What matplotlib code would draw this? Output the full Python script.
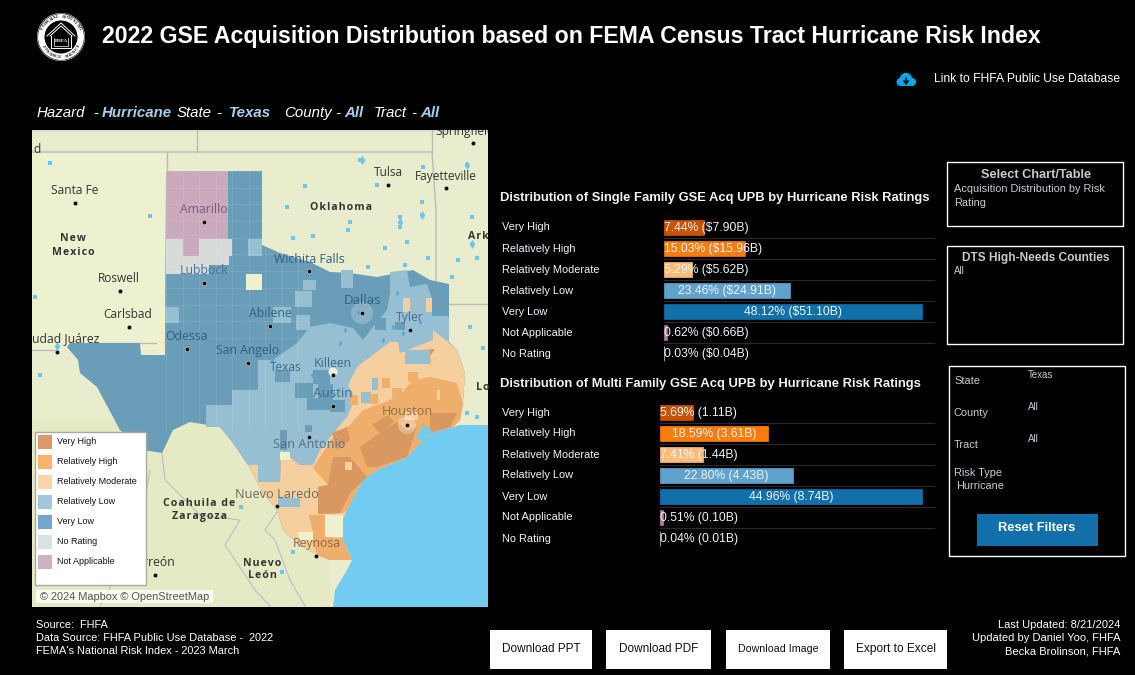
import numpy as np
import matplotlib
matplotlib.use("Agg")
import matplotlib.pyplot as plt
from matplotlib.patches import Circle, Polygon, Rectangle

plt.rcParams["font.family"] = ["Liberation Sans", "DejaVu Sans"]

W, H = 1135, 675

# chart values
ratings = ["Very High", "Relatively High", "Relatively Moderate", "Relatively Low",
           "Very Low", "Not Applicable", "No Rating"]
sf_share = [7.44, 15.03, 5.29, 23.46, 48.12, 0.62, 0.03]
sf_upb = ["$7.90B", "$15.96B", "$5.62B", "$24.91B", "$51.10B", "$0.66B", "$0.04B"]
mf_share = [5.69, 18.59, 7.41, 22.80, 44.96, 0.51, 0.04]
mf_upb = ["1.11B", "3.61B", "1.44B", "4.43B", "8.74B", "0.10B", "0.01B"]
rating_colors = ["#c85200", "#fc7d0b", "#ffbc79", "#5fa2ce", "#1170aa", "#b07aa1", "#d7dce0"]

legend_names = ["Very High", "Relatively High", "Relatively Moderate", "Relatively Low",
                "Very Low", "No Rating", "Not Applicable"]
legend_colors = ["#dd9a68", "#fbb06c", "#fdd3aa", "#a2c6e0", "#72a6cc", "#dde1e5", "#d0afc8"]

# map shapes, in screen pixels of the dashboard
texas = [(166, 171), (262, 171), (262, 245), (280, 253), (310, 262), (330, 272), (350, 273),
         (377, 277), (397, 273), (413, 270), (430, 280), (449, 284), (449, 342), (457, 350),
         (465, 373), (463, 403), (460, 420), (453, 427), (430, 433), (407, 457), (377, 470),
         (363, 480), (347, 510), (340, 527), (343, 540), (352, 560), (330, 560), (317, 555),
         (297, 543), (283, 530), (277, 510), (263, 493), (248, 465), (233, 443), (220, 427),
         (190, 422), (173, 430), (162, 453), (143, 450), (120, 430), (97, 387), (80, 373),
         (78, 360), (67, 347), (70, 343), (140, 343), (141, 355), (157, 355), (157, 343),
         (165, 343)]
gulf = [(488, 425), (460, 425), (453, 427), (430, 433), (407, 457), (377, 470), (363, 480),
        (347, 510), (340, 527), (343, 540), (352, 560), (347, 570), (335, 590), (333, 607),
        (488, 607)]
bay = [(416, 440), (423, 425), (432, 430), (424, 440)]
not_applicable = [(166, 171), (228, 171), (228, 239), (199, 239), (199, 256), (183, 256),
                  (183, 239), (166, 239)]
no_rating = [(166, 239), (183, 239), (183, 256), (199, 256), (199, 239), (232, 239), (232, 256),
             (229, 256), (229, 265), (209, 265), (209, 274), (166, 274)]
rel_low = [(297, 343), (310, 327), (330, 323), (353, 328), (363, 340), (373, 327), (387, 310),
           (390, 293), (390, 272), (407, 270), (410, 287), (427, 284), (437, 313), (449, 317),
           (449, 345), (400, 360), (360, 400), (313, 465), (300, 465), (281, 450), (280, 482),
           (258, 482), (258, 465), (248, 465), (233, 443), (220, 427), (206, 427), (206, 405),
           (232, 405), (232, 390), (258, 390), (258, 360), (273, 360)]
moderate = [(332, 435), (347, 417), (355, 398), (348, 385), (357, 367), (370, 357), (390, 342),
            (398, 342), (400, 353), (433, 340), (433, 330), (448, 342), (457, 350), (465, 373),
            (463, 403), (460, 420), (453, 427), (430, 433), (407, 457), (377, 470), (363, 480),
            (347, 510), (340, 527), (343, 540), (352, 560), (330, 560), (317, 555), (297, 543),
            (283, 530), (277, 510), (263, 493), (248, 465), (258, 465), (258, 482), (280, 482),
            (281, 450), (300, 465), (313, 465), (320, 450)]
high = [(363, 410), (383, 403), (400, 395), (413, 380), (430, 377), (457, 383), (463, 403),
        (460, 420), (453, 427), (430, 433), (407, 457), (377, 470), (363, 480), (347, 510),
        (343, 513), (318, 514), (318, 487), (328, 485), (313, 468), (320, 457), (333, 437),
        (350, 425)]
high_south = [(309, 515), (325, 515), (325, 537), (343, 538), (347, 550), (352, 560), (330, 560),
              (317, 555), (312, 540), (313, 533)]
very_high = [
    [(360, 447), (380, 433), (397, 422), (407, 430), (417, 427), (407, 457), (377, 467), (367, 467)],
    [(333, 457), (350, 457), (367, 477), (350, 493), (340, 513), (318, 514), (318, 487), (328, 485)],
    [(332, 433), (347, 427), (350, 440), (337, 450)],
    [(430, 413), (457, 413), (450, 427), (430, 433)],
    [(421, 350), (435, 349), (430, 356), (431, 363), (424, 362)],
    [(372, 425), (388, 415), (394, 422), (380, 433)],
]
# loose counties, as (x0, y0, x1, y1)
very_low_blocks = [(295, 383, 313, 398), (307, 398, 330, 410), (275, 370, 290, 382),
                   (280, 430, 287, 450), (313, 370, 330, 384), (318, 384, 333, 400),
                   (305, 425, 312, 432), (330, 400, 345, 412), (395, 322, 405, 330),
                   (432, 296, 449, 316), (350, 300, 378, 316), (375, 318, 386, 330)]
rel_low_blocks = [(248, 239, 262, 256), (165, 307, 179, 323), (295, 291, 312, 307),
                  (273, 307, 291, 323), (258, 360, 273, 376), (341, 270, 353, 288),
                  (361, 392, 371, 403), (405, 350, 430, 364), (278, 498, 300, 507),
                  (372, 378, 378, 390), (296, 315, 310, 330), (303, 280, 316, 290)]
moderate_blocks = [(403, 298, 410, 312), (426, 298, 432, 312), (345, 462, 352, 470), (437, 390, 444, 400),
                   (405, 412, 418, 420)]
high_blocks = [(408, 372, 418, 382), (382, 378, 390, 388), (370, 394, 378, 404),
               (440, 385, 455, 405), (392, 388, 402, 398), (350, 395, 358, 405)]
blank_blocks = [(246, 274, 262, 290), (157, 343, 165, 355), (325, 515, 343, 537),
                (298, 532, 313, 540), (280, 452, 290, 460)]

lake_x = [360, 400, 400, 422, 377, 422, 467, 423, 472, 472, 350, 348, 305, 287, 293, 313, 385, 407,
          428, 458, 477, 368, 405, 452, 470, 483, 50, 150, 35, 241, 293, 282, 40, 467, 477]
lake_y = [160, 217, 227, 215, 185, 202, 165, 167, 244, 217, 222, 230, 186, 207, 238, 236, 248, 242,
          258, 260, 258, 267, 265, 277, 327, 348, 163, 216, 297, 507, 552, 572, 375, 413, 417]
big_lake_x = [400, 467, 472, 422, 362, 57]
big_lake_y = [222, 165, 244, 215, 160, 346]
texas_lake_x = [287, 313, 355, 380, 397, 443, 433, 383, 403, 272, 340, 393, 312, 372, 420, 345, 318, 358]
texas_lake_y = [277, 278, 290, 310, 293, 295, 313, 340, 333, 360, 343, 327, 375, 290, 322, 330, 402, 312]

state_lines = [
    [(32, 152), (432, 152), (436, 210), (436, 284)],
    [(167, 152), (167, 171)],
    [(197, 130), (197, 152)],
    [(432, 130), (432, 152)],
    [(449, 304), (488, 304)],
    [(32, 350), (57, 350)],
    [(166, 275), (166, 343), (100, 343)],
]
mexico_lines = [
    [(162, 453), (165, 480), (200, 515), (240, 520), (225, 545), (255, 590), (270, 606)],
    [(277, 512), (265, 530), (275, 540), (290, 580), (305, 606)],
    [(100, 606), (125, 560), (145, 500), (150, 470)],
]

map_labels = [
    ("Santa Fe", 75, 189, "#333333", 8.6), ("Tulsa", 388, 171, "#333333", 8.6),
    ("Fayetteville", 446, 175, "#333333", 8.6), ("Roswell", 119, 277, "#333333", 8.6),
    ("Carlsbad", 128, 313, "#333333", 8.6), ("Amarillo", 204, 208, "#7b5a80", 8.8),
    ("Lubbock", 204, 269, "#47739a", 8.8), ("Wichita Falls", 309, 258, "#2f5f85", 8.8),
    ("Dallas", 363, 299, "#2f5f85", 9.5), ("Abilene", 270, 312, "#2f5f85", 8.8),
    ("Tyler", 410, 316, "#4a6f8c", 8.8), ("Odessa", 187, 335, "#2f5f85", 8.8),
    ("San Angelo", 248, 349, "#2f5f85", 8.8), ("Killeen", 333, 362, "#3d6a8c", 8.8),
    ("Austin", 333, 392, "#3d6a8c", 9.6), ("Houston", 407, 410, "#8a6f58", 9.2),
    ("San Antonio", 309, 443, "#54708a", 9.2), ("Nuevo Laredo", 277, 493, "#6e6a62", 9.2),
    ("Reynosa", 317, 542, "#8a6a50", 8.8),
]
bold_labels = [("New", 73, 238), ("Mexico", 73, 252), ("Oklahoma", 341, 207),
               ("Coahuila de", 199, 503), ("Zaragoza", 199, 515), ("Nuevo", 262, 562),
               ("León", 262, 574)]
city_x = [75, 204, 388, 446, 120, 204, 309, 362, 129, 270, 410, 187, 57, 248, 333, 333, 407, 309,
          277, 316, 155, 473]
city_y = [203, 222, 185, 188, 291, 283, 271, 313, 327, 326, 330, 349, 352, 363, 375, 406, 425, 437,
          506, 556, 575, 143]


def px_axes(fig, left, top, width, height):
    return fig.add_axes([left / W, 1 - (top + height) / H, width / W, height / H])


def txt(ax, x, y, s, size, color="white", **kwargs):
    kwargs.setdefault("va", "center")
    return ax.text(x, y + 1, s, fontsize=size, color=color, **kwargs)


def box(ax, x0, y0, x1, y1, color, **kwargs):
    ax.add_patch(Rectangle((x0, y0), x1 - x0, y1 - y0, facecolor=color, edgecolor="none", **kwargs))


def draw_bars(fig, left, top, right_edge, xmax_px, shares, upbs):
    height = 21 * 7
    ax = px_axes(fig, left, top, right_edge - left, height)
    scale = max(shares) / xmax_px
    ax.set_xlim(0, (right_edge - left) * scale)
    ax.set_ylim(6.5, -0.5)
    ax.axis("off")
    rows = np.arange(len(shares))
    ax.barh(rows, shares, height=0.71, color=rating_colors, edgecolor=rating_colors, linewidth=0.5)
    for row in rows[:-1]:
        ax.axhline(row + 0.5, color="#2a2a2a", lw=0.8)
    for row, share, upb in zip(rows, shares, upbs):
        label = f"{share:.2f}% ({upb})"
        if len(label) * 6 < share / scale:
            ax.text(share / 2, row + 0.02, label, ha="center", va="center", fontsize=8.7, color="#eef3f5")
        else:
            ax.text(0, row + 0.02, label, ha="left", va="center", fontsize=8.7, color="#eef3f5")


def draw_map(fig):
    ax = px_axes(fig, 32, 130, 456, 477)
    ax.set_xlim(32, 488)
    ax.set_ylim(607, 130)
    ax.axis("off")
    box(ax, 32, 130, 488, 607, "#e9edcd", zorder=0)
    box(ax, 32, 130, 488, 132, "#dcdcdc", zorder=0.5)
    box(ax, 32, 153, 166, 350, "#eef1d0", zorder=0.2)
    box(ax, 32, 420, 330, 607, "#e5e9c4", zorder=0.2)
    ax.add_patch(Polygon(gulf, facecolor="#72ccf1", edgecolor="none", zorder=1))

    tx = Polygon(texas, facecolor="#699db8", edgecolor="none", zorder=2)
    ax.add_patch(tx)
    layers = [(not_applicable, "#c9a9bb"), (no_rating, "#d7dcd8"), (rel_low, "#97bfd2"),
              (moderate, "#f6cf9e"), (high, "#efae6c"), (high_south, "#efae6c")]
    for shape, color in layers:
        ax.add_patch(Polygon(shape, facecolor=color, edgecolor="none", zorder=3))
    for shape in very_high:
        ax.add_patch(Polygon(shape, facecolor="#d8985f", edgecolor="none", zorder=4))
    blocks = [(very_low_blocks, "#699db8"), (rel_low_blocks, "#97bfd2"), (moderate_blocks, "#f6cf9e"),
              (high_blocks, "#efae6c"), (blank_blocks, "#eef1cb")]
    for group, color in blocks:
        for x0, y0, x1, y1 in group:
            box(ax, x0, y0, x1, y1, color, zorder=4)
    ax.add_patch(Polygon(bay, facecolor="#72ccf1", edgecolor="none", zorder=4.5))

    # county lines and bright metro patches
    grid = ax.vlines(np.arange(166, 300, 16.5), 171, 430, color="white", lw=0.5, alpha=0.14, zorder=5)
    grid.set_clip_path(tx)
    grid = ax.hlines(np.arange(171, 345, 16.7), 166, 300, color="white", lw=0.5, alpha=0.14, zorder=5)
    grid.set_clip_path(tx)
    ax.add_patch(Circle((362, 313), 11, facecolor="white", alpha=0.22, edgecolor="none", zorder=5))
    ax.add_patch(Circle((407, 425), 9, facecolor="white", alpha=0.3, edgecolor="none", zorder=5))
    ax.add_patch(Circle((333, 372), 4.5, facecolor="#f5f6d8", alpha=0.9, edgecolor="none", zorder=5))

    ax.scatter(lake_x, lake_y, s=6, marker="s", color="#6cc6f0", linewidths=0, zorder=6)
    ax.scatter(big_lake_x, big_lake_y, s=22, marker="d", color="#6cc6f0", linewidths=0, zorder=6)
    ax.scatter(texas_lake_x, texas_lake_y, s=8, marker="d", color="#4da6d9", linewidths=0, zorder=6)

    for line in state_lines:
        xs, ys = zip(*line)
        ax.plot(xs, ys, color="#b9bcb6", lw=1.0, zorder=1.5)
    for line in mexico_lines:
        xs, ys = zip(*line)
        ax.plot(xs, ys, color="#bdbdcc", lw=0.8, zorder=1.5)

    ax.scatter(city_x, city_y, s=11, color="#111111", edgecolors="white", linewidths=0.3, zorder=7)
    for name, x, y, color, size in map_labels:
        txt(ax, x, y + 0.5, name, size, color, ha="center", family="Open Sans", zorder=8)
    for name, x, y in bold_labels:
        txt(ax, x, y, "\u200a".join(name), 7.6, "#333333", ha="center", family="Open Sans",
            fontweight="bold", zorder=8)
    txt(ax, 286, 367, "Texas", 8.6, "#3d6a8c", ha="center", family="Open Sans", zorder=8)
    # names cut off by the map frame
    txt(ax, 99, 337.5, "Ciudad Juárez", 8.8, "#333333", ha="right", family="Open Sans", zorder=8, clip_on=True)
    txt(ax, 33, 149, "d", 8.6, "#333333", family="Open Sans", zorder=8)
    txt(ax, 465, 131, "Springfield", 8.6, "#333333", ha="center", family="Open Sans", zorder=8, clip_on=True)
    txt(ax, 468, 236, "A\u200ar\u200ak", 7.6, "#333333", family="Open Sans", fontweight="bold", zorder=8)
    txt(ax, 476, 387, "L\u200ao", 7.6, "#333333", family="Open Sans", fontweight="bold", zorder=8)
    txt(ax, 176, 562, "Torreón", 8.8, "#333333", ha="right", family="Open Sans", zorder=8, clip_on=True)

    ax.add_patch(Rectangle((35, 432), 111, 153, facecolor="white", edgecolor="#a9a9a0", lw=1, zorder=9))
    for i, (name, color) in enumerate(zip(legend_names, legend_colors)):
        box(ax, 38, 435 + i * 20, 52, 449 + i * 20, color, zorder=10)
        txt(ax, 57, 441 + i * 20, name, 6.5, "#111122", zorder=10)

    box(ax, 36, 590, 213, 603, "white", alpha=0.75, zorder=9)
    txt(ax, 40, 595.5, "© 2024 Mapbox © OpenStreetMap", 7.9, "#555555", zorder=10)


def draw_logo(ax):
    cx, cy = 61, 37
    ax.add_patch(Circle((cx, cy), 24, facecolor="white", edgecolor="none"))
    ax.add_patch(Circle((cx, cy), 23.3, facecolor="none", edgecolor="#222222", lw=0.5))
    ax.add_patch(Circle((cx, cy), 16.5, facecolor="black", edgecolor="none"))
    for text, start, end, flip in [("FEDERAL HOUSING", 155, 25, False), ("FINANCE AGENCY", 208, 332, True)]:
        for ch, ang in zip(text, np.linspace(start, end, len(text))):
            rad = np.radians(ang)
            rot = ang - 90 if not flip else ang + 90
            ax.text(cx + 20.2 * np.cos(rad), cy - 20.2 * np.sin(rad), ch, fontsize=3.3, family="Liberation Serif",
                    fontweight="bold", color="black", rotation=rot, ha="center", va="center")
    ax.plot([cx - 14, cx, cx + 14], [cy - 1, cy - 14, cy - 1], color="white", lw=0.7)
    ax.plot([cx - 11, cx, cx + 11], [cy - 1, cy - 11, cy - 1], color="white", lw=0.7)
    ax.plot([cx - 10, cx - 10, cx + 10, cx + 10], [cy - 1, cy + 11, cy + 11, cy - 1], color="white", lw=0.7)
    ax.plot([cx - 7, cx - 7, cx + 7, cx + 7], [cy + 1, cy + 9, cy + 9, cy + 1], color="white", lw=0.5)
    ax.text(cx, cy + 4.5, "FHFA", fontsize=3.6, family="Liberation Serif", fontweight="bold", color="white",
            ha="center", va="center")


def draw_cloud(ax):
    color = "#00a9e6"
    for x, y, r in [(900.5, 82, 4), (906, 79, 6.2), (912, 82, 4)]:
        ax.add_patch(Circle((x, y), r, facecolor=color, edgecolor="none"))
    box(ax, 900, 82, 912, 86, color)
    ax.plot([906, 906], [78, 83], color="black", lw=1.1)
    ax.plot([904, 906, 908], [81, 84, 81], color="black", lw=1.1)


def main():
    fig = plt.figure(figsize=(W / 100, H / 100), dpi=100, facecolor="black")
    ui = fig.add_axes([0, 0, 1, 1])
    ui.set_xlim(0, W)
    ui.set_ylim(H, 0)
    ui.axis("off")

    draw_logo(ui)
    txt(ui, 102, 35, "2022 GSE Acquisition Distribution based on FEMA Census Tract Hurricane Risk Index",
        16.63, fontweight="bold")
    draw_cloud(ui)
    txt(ui, 934, 78, "Link to FHFA Public Use Database", 8.7)

    blue = "#a6cdee"
    header = [(37, "Hazard", "white", "normal"), (93, "-", "white", "normal"), (102, "Hurricane", blue, "bold"),
              (177, "State", "white", "normal"), (216, "-", "white", "normal"), (229, "Texas", blue, "bold"),
              (284, "County", "white", "normal"), (335, "-", "white", "normal"), (344, "All", blue, "bold"),
              (374, "Tract", "white", "normal"), (411, "-", "white", "normal"), (420, "All", blue, "bold")]
    for x, s, color, weight in header:
        txt(ui, x, 112, s, 10.8, color, fontstyle="italic", fontweight=weight)

    draw_map(fig)

    # single family and multi family panels
    txt(ui, 500, 197.5, "Distribution of Single Family GSE Acq UPB by Hurricane Risk Ratings", 9.35, "#f2f2f2", fontweight="bold")
    txt(ui, 500, 382.5, "Distribution of Multi Family GSE Acq UPB by Hurricane Risk Ratings", 9.35, "#f2f2f2", fontweight="bold")
    draw_bars(fig, 664, 217, 935, 258, sf_share, sf_upb)
    draw_bars(fig, 660, 402, 935, 262, mf_share, mf_upb)
    for i, name in enumerate(ratings):
        txt(ui, 502, 226.5 + i * 21.15, name, 7.9, "#eef5fa")
        txt(ui, 502, 411.5 + i * 21, name, 7.9, "#eef5fa")

    # filter panels
    for x0, y0, x1, y1 in [(947, 162, 1123, 226), (947, 246, 1123, 344), (949, 366, 1125, 556)]:
        ui.add_patch(Rectangle((x0, y0), x1 - x0, y1 - y0, facecolor="none", edgecolor="white", lw=1))
    grey = "#c4cbd3"
    txt(ui, 1036, 174.5, "Select Chart/Table", 9.2, grey, ha="center", fontweight="bold")
    txt(ui, 954, 188.5, "Acquisition Distribution by Risk", 7.9, grey)
    txt(ui, 954, 201.5, "Rating", 7.9, grey)
    txt(ui, 1036, 257.5, "DTS High-Needs Counties", 8.55, grey, ha="center", fontweight="bold")
    txt(ui, 954, 270, "All", 7, grey)
    for y, s in [(380, "State"), (412, "County"), (444, "Tract"), (472, "Risk Type")]:
        txt(ui, 954, y, s, 7.9, grey)
    txt(ui, 956, 485, "Hurricane", 7.9, grey)
    for y, s in [(374, "Texas"), (406, "All"), (438, "All")]:
        txt(ui, 1028, y, s, 7, grey)
    box(ui, 977, 514, 1098, 546, "#1170aa")
    txt(ui, 1037, 527, "Reset Filters", 9.3, ha="center", fontweight="bold")

    # footer
    for y, s in [(624, "Source:  FHFA"), (637, "Data Source: FHFA Public Use Database -  2022"),
                 (650, "FEMA's National Risk Index - 2023 March")]:
        txt(ui, 36, y, s, 7.9)
    for y, s in [(624, "Last Updated: 8/21/2024"), (637, "Updated by Daniel Yoo, FHFA"), (650, "Becka Brolinson, FHFA")]:
        txt(ui, 1120, y, s, 8.0, ha="right")
    buttons = [(490, 592, "Download PPT", 8.5), (606, 711, "Download PDF", 8.5),
               (726, 830, "Download Image", 7.7), (844, 947, "Export to Excel", 8.6)]
    for x0, x1, s, size in buttons:
        box(ui, x0, 630, x1, 669, "white")
        txt(ui, (x0 + x1) / 2, 648, s, size, "#111111", ha="center")

    fig.savefig("out.png", dpi=100, facecolor="black")


if __name__ == "__main__":
    main()
